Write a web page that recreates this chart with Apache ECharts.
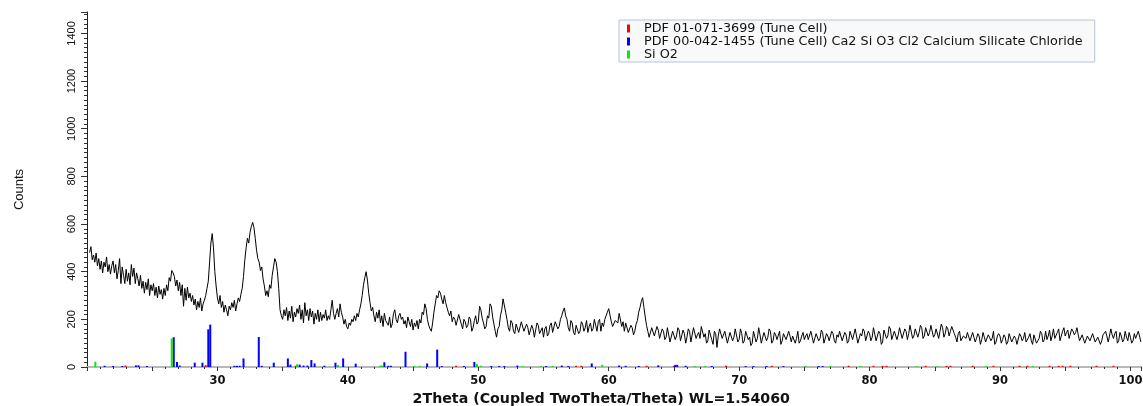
<!DOCTYPE html>
<html>
<head>
<meta charset="utf-8">
<script src="https://cdn.jsdelivr.net/npm/echarts@6/dist/echarts.min.js"></script>
<style>
html,body{margin:0;padding:0;background:#fff;}
#chart{width:1143px;height:406px;}
</style>
</head>
<body>
<div id="chart"></div>
<script>
// Measured pattern: counts sampled every 0.1 deg 2Theta starting at 20.2
const twoThetaStart = 20.2;
const twoThetaStep = 0.1;
const counts = [
 480,505,450,470,440,478,425,455,
 410,445,395,440,420,462,400,430,390,425,
 445,395,430,370,405,455,350,420,385,350,
 410,360,395,345,430,380,415,350,395,370,
 340,385,330,360,310,355,325,370,300,345,
 320,350,300,335,290,340,305,325,285,330,
 300,345,320,375,360,405,395,380,340,365,
 320,355,300,345,255,330,280,335,290,310,
 275,300,260,285,240,275,250,290,235,265,
 280,300,330,360,440,520,560,500,400,340,
 290,265,300,250,275,230,260,240,215,255,
 240,270,250,280,235,265,290,275,305,330,
 380,450,500,540,520,565,590,607,585,540,
 490,455,440,405,420,370,340,300,320,295,
 345,330,385,420,455,440,400,330,240,215,
 200,240,215,250,195,235,205,255,190,230,
 210,245,225,260,200,240,185,270,215,240,
 195,245,210,235,180,225,200,240,190,230,
 195,220,205,240,195,215,200,240,280,225,
 200,225,245,210,265,230,210,180,200,170,
 160,185,175,200,190,215,195,225,210,240,
 265,300,345,375,400,365,310,270,235,250,
 215,190,230,205,240,185,215,170,225,195,
 200,175,210,165,180,225,240,200,185,215,
 225,200,210,180,195,165,210,190,170,200,
 155,185,170,195,160,200,185,230,220,265,
 245,200,175,160,150,185,230,265,300,290,
 320,310,285,265,300,270,250,230,215,235,
 190,210,200,175,170,220,215,180,160,200,
 190,165,175,210,200,150,165,195,215,180,
 190,255,240,205,185,160,170,215,205,265,
 255,210,180,150,125,160,170,215,240,286,
 280,230,200,165,150,195,185,150,140,180,
 175,145,150,190,190,150,145,180,165,135,
 140,175,160,125,130,185,175,140,145,165,
 125,160,170,130,140,175,185,145,150,190,
 195,160,170,200,215,235,248,215,200,165,
 150,195,185,145,135,175,170,140,150,190,
 180,150,165,195,145,170,185,150,160,200,
 175,150,190,200,150,185,170,200,205,230,
 245,248,190,170,165,195,200,185,225,228,
 170,190,150,185,180,145,140,175,165,135,
 150,180,195,230,250,275,291,250,210,175,
 150,125,120,165,160,130,135,170,155,120,
 120,160,150,115,125,165,160,105,110,150,
 145,115,130,165,155,110,115,155,140,100,
 125,160,150,105,110,165,160,120,135,145,
 120,170,165,125,140,100,110,155,150,115,
 95,150,140,82,130,160,165,120,115,150,
 150,100,105,145,145,110,125,160,155,105,
 115,160,140,100,110,150,150,115,125,90,
 100,150,145,105,120,165,135,100,105,145,
 140,110,125,160,150,100,110,145,135,115,
 120,150,95,110,140,135,115,120,150,130,
 105,130,135,100,120,150,100,110,130,145,
 115,130,140,115,110,150,125,100,100,140,
 135,110,120,155,145,100,105,140,130,110,
 115,150,140,110,100,135,125,150,150,110,
 115,145,135,100,110,150,145,115,120,160,
 155,100,105,140,130,160,150,110,115,150,
 140,110,125,165,160,110,115,150,140,95,
 105,155,150,120,130,170,160,115,120,150,
 145,115,135,165,165,120,125,160,150,115,
 140,175,170,120,130,160,155,125,145,175,
 165,120,130,165,160,130,145,175,170,125,
 135,160,155,120,150,180,165,125,140,170,
 160,130,150,170,175,140,125,105,140,150,
 110,115,130,125,120,145,140,110,115,145,
 125,105,120,140,130,95,115,145,125,105,
 100,135,125,110,120,150,95,105,130,140,
 130,100,115,135,125,95,105,140,135,105,
 110,130,120,95,100,140,130,110,120,145,
 105,110,125,140,110,95,135,140,100,110,
 120,150,140,105,115,150,115,130,155,110,
 130,160,120,115,145,160,110,130,150,165,
 130,145,155,120,125,160,150,135,145,165,
 135,110,115,135,130,100,105,130,125,110,
 110,140,135,105,100,125,120,95,110,135,
 130,150,145,105,110,160,135,120,140,150,
 100,110,145,130,105,115,150,125,110,145,
 125,100,110,140,120,115,150,130,105
];

// Reference pattern sticks: [2Theta, counts]
const redSticks = [
 [22.95,6],[29.1,8],[36.0,5],[48.3,5],[57.5,5],[57.9,5],[62.9,5],[65.0,5],[69.0,5],[72.5,5],
 [78.4,5],[80.3,5],[81.0,5],[81.3,5],[84.3,5],[85.9,5],[86.2,5],[87.9,5],[89.5,5],[91.5,5],
 [92.1,5],[93.8,5],[94.5,5],[94.8,5],[95.4,5],[97.4,5],[98.7,5]
];
const blueSticks = [
 [21.35,5],[22.0,4],[22.7,4],[23.75,7],[23.95,7],[24.6,4],[26.65,125],[26.9,21],[27.1,6],
 [28.26,18],[28.85,18],[29.3,158],[29.45,178],[31.3,5],[31.5,5],[31.7,5],[32.0,36],
 [33.17,126],[33.4,5],[34.32,18],[35.4,36],[35.6,10],[36.3,10],[36.6,6],[36.9,6],
 [37.2,29],[37.45,15],[38.2,5],[39.05,18],[39.64,36],[40.6,14],[42.8,20],[43.1,5],[43.3,5],
 [44.42,64],[46.08,15],[46.85,73],[47.2,4],[48.9,4],[49.7,21],[51.0,4],[51.6,4],[52.0,4],
 [53.0,6],[55.2,4],[56.4,6],[56.9,4],[58.7,15],[60.8,6],[61.3,5],[62.3,4],[63.8,7],
 [65.1,9],[65.25,9],[65.9,5],[67.9,4],[70.5,4],[71.1,4],[72.1,4],[73.4,4],[76.1,4],[76.4,4]
];
const greenSticks = [
 [20.64,22],[26.5,120],[36.1,11],[39.25,8],[42.5,6],[42.6,6],[45.1,4],[45.5,4],[49.9,12],
 [50.2,5],[53.4,4],[54.8,4],[55.7,4],[59.5,9],[66.6,4],[67.4,4],[75.1,4],[77.0,4],[79.3,4],
 [83.6,4],[85.2,4],[88.9,4],[92.5,4]
];

const legendNames = [
 'PDF 01-071-3699 (Tune Cell)',
 'PDF 00-042-1455 (Tune Cell) Ca2 Si O3 Cl2 Calcium Silicate Chloride',
 'Si O2'
];
const xTitle = '2Theta (Coupled TwoTheta/Theta) WL=1.54060';
const yTitle = 'Counts';

const pattern = counts.map((c, i) => [+(twoThetaStart + i * twoThetaStep).toFixed(2), c]);

const chart = echarts.init(document.getElementById('chart'), null, {renderer: 'canvas'});
const stickSeries = (name, data, color) => ({
  name, type: 'bar', data, barWidth: 2, barGap: '-100%',
  itemStyle: {color}, animation: false, z: 2
});

chart.setOption({
  animation: false,
  backgroundColor: '#fff',
  grid: {left: 87, right: 1.5, top: 12, bottom: 39, containLabel: false, outerBoundsMode: 'none'},
  legend: {
    data: legendNames.map(n => ({name: n, icon: 'rect'})),
    orient: 'vertical', left: 619, top: 20,
    itemWidth: 3, itemHeight: 8, itemGap: 0,
    padding: [2, 12, 1, 8],
    backgroundColor: '#f9f9f9', borderColor: '#b7c4d4', borderWidth: 1, borderRadius: 0,
    textStyle: {fontFamily: 'DejaVu Sans, Verdana, sans-serif', fontSize: 12.8, color: '#111', padding: [0, 0, 0, 9], lineHeight: 12.5}
  },
  xAxis: {
    type: 'value', min: 20, max: 100.85, interval: 5,
    name: xTitle, nameLocation: 'middle', nameGap: 23,
    nameTextStyle: {fontFamily: 'DejaVu Sans, Verdana, sans-serif', fontSize: 14.2, fontWeight: 'bold', color: '#111', padding: [0, 26, 0, 0]},
    axisLine: {show: true, onZero: false, lineStyle: {color: '#b8b8b8', width: 2}},
    axisTick: {show: true, length: 4, lineStyle: {color: '#333'}},
    minorTick: {show: true, splitNumber: 5, length: 2, lineStyle: {color: '#333'}},
    axisLabel: {
      margin: 8, fontFamily: 'DejaVu Sans, Verdana, sans-serif', fontSize: 11.5, fontWeight: 'bold', color: '#111',
      formatter: v => (v % 10 === 0 && v > 20) ? String(v) : ''
    },
    splitLine: {show: false}
  },
  yAxis: {
    type: 'value', min: 0, max: 1490, interval: 200,
    name: yTitle, nameLocation: 'middle', nameGap: 61, nameRotate: 90,
    nameTextStyle: {fontFamily: 'Liberation Sans, Arial, sans-serif', fontSize: 13, color: '#111'},
    axisLine: {show: true, lineStyle: {color: '#222', width: 1}},
    axisTick: {show: true, length: 6, lineStyle: {color: '#333'}},
    minorTick: {show: true, splitNumber: 10, length: 3, lineStyle: {color: '#333'}},
    axisLabel: {
      rotate: 90, margin: 10,
      fontFamily: 'Liberation Sans Narrow, Liberation Sans, Arial, sans-serif', fontSize: 11, color: '#111',
      formatter: v => (v % 200 === 0) ? String(v) : ''
    },
    splitLine: {show: false}
  },
  series: [
    stickSeries(legendNames[0], redSticks, '#ff0000'),
    stickSeries(legendNames[1], blueSticks, '#0000ff'),
    stickSeries(legendNames[2], greenSticks, '#00ee00'),
    {
      name: 'pattern', type: 'line', data: pattern, showSymbol: false, symbol: 'none',
      lineStyle: {color: '#000', width: 1}, z: 3, animation: false
    }
  ]
});
</script>
</body>
</html>
